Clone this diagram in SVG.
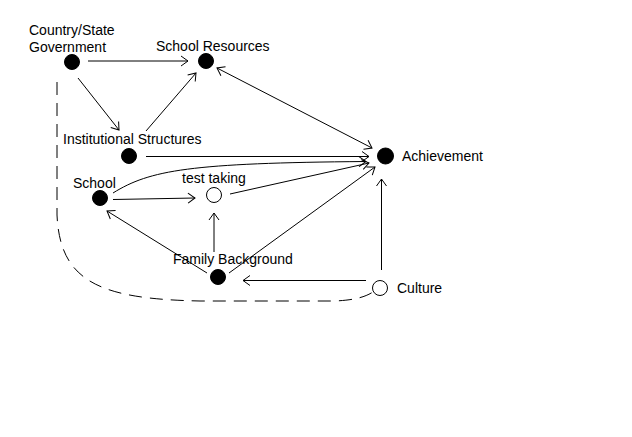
<svg xmlns="http://www.w3.org/2000/svg" width="632" height="437" viewBox="0 0 632 437">
<style>
text{font-family:"Liberation Sans",Arial,sans-serif;font-size:14px;fill:#000}
.n{fill:#000;stroke:#000;stroke-width:1}
.o{fill:#fff;stroke:#000;stroke-width:1}
.c{fill:none;stroke:#000;stroke-width:1}
.a{marker-end:url(#ah)}
.d{stroke-dasharray:13 8}
</style>
<defs>
<marker id="ah" markerUnits="userSpaceOnUse" viewBox="-8 -6 10 12" refX="0" refY="0" markerWidth="10" markerHeight="12" orient="auto-start-reverse">
<path d="M-7,-5 L0,0 L-7,5" fill="none" stroke="#000" stroke-width="1"/>
</marker>
</defs>
<rect width="632" height="437" fill="#fff"/>
<g id="connectors">
<line class="c a" x1="88" y1="61" x2="188" y2="61"/>
<line class="c a" x1="78" y1="78" x2="119" y2="130"/>
<line class="c a" x1="146" y1="131" x2="196" y2="73"/>
<line class="c a" x1="217" y1="68" x2="372" y2="148" marker-start="url(#ah)"/>
<line class="c a" x1="146" y1="156.5" x2="369" y2="156.5"/>
<path class="c a" d="M113,193 C150,170 190,163 366,161.5"/>
<line class="c a" x1="230" y1="194" x2="369" y2="163"/>
<line class="c a" x1="113" y1="199.5" x2="195" y2="198"/>
<line class="c a" x1="207" y1="273" x2="107" y2="211"/>
<line class="c a" x1="214" y1="252" x2="214" y2="213"/>
<line class="c a" x1="229" y1="273" x2="375" y2="167"/>
<line class="c a" x1="366" y1="280.5" x2="243" y2="280.5"/>
<line class="c a" x1="381.5" y1="270" x2="381.5" y2="179"/>
<path class="c d" d="M57,82 L57,215 C60,282 100,299 200,301 L335,301 C355,300 365,297 373,292"/>
</g>
<g id="gov"><circle class="n" cx="72" cy="62" r="7.5"/><text x="29" y="35">Country/State</text><text x="29" y="52">Government</text></g>
<g id="resources"><circle class="n" cx="206" cy="61" r="7.5"/><text x="156" y="51">School Resources</text></g>
<g id="institutional"><circle class="n" cx="129" cy="156" r="7.5"/><text x="63" y="144">Institutional Structures</text></g>
<g id="school"><circle class="n" cx="100" cy="198" r="7.5"/><text x="73" y="188">School</text></g>
<g id="testtaking"><circle class="o" cx="214" cy="195" r="7.5"/><text x="182" y="183">test taking</text></g>
<g id="family"><circle class="n" cx="218" cy="277" r="7.5"/><text x="173" y="264">Family Background</text></g>
<g id="culture"><circle class="o" cx="380" cy="288" r="7.5"/><text x="397" y="293">Culture</text></g>
<g id="achievement"><circle class="n" cx="385.5" cy="156" r="8"/><text x="402" y="161">Achievement</text></g>
</svg>
